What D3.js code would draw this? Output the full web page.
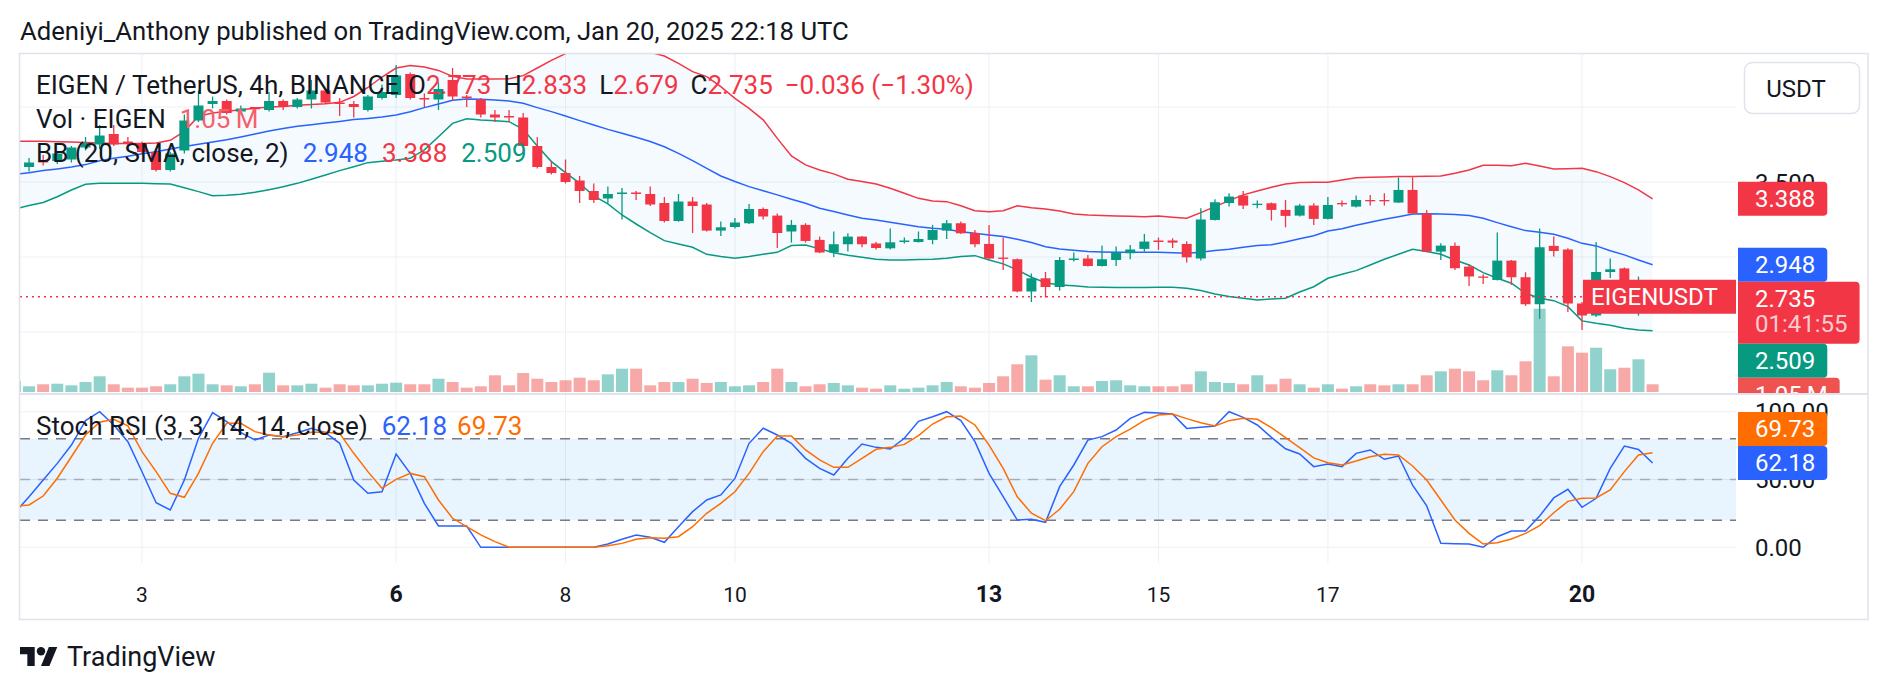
<!DOCTYPE html>
<html>
<head>
<meta charset="utf-8">
<script src="https://cdn.jsdelivr.net/npm/d3@7"></script>
<style>
  html, body { margin: 0; padding: 0; background: #fff; }
  svg { display: block; font-family: Roboto, "Noto Sans", sans-serif; }
</style>
</head>
<body>
<svg id="chart" width="1888" height="690"></svg>
<script>
// 4h candles, first one Jan 1 2025 12:00 UTC
const firstCandle = Date.UTC(2025, 0, 1, 12);
const candleMs = 4 * 3600 * 1000;

const opens = [
  3.57, 3.60, 3.64, 3.64, 3.65, 3.73, 3.75, 3.82, 3.77, 3.76,
  3.70, 3.58, 3.71, 3.91, 4.02, 4.04, 3.97, 4.00, 3.98, 4.04,
  4.00, 4.05, 4.11, 4.03, 4.02, 3.98, 4.06, 4.08, 4.22, 4.06,
  4.05, 4.18, 4.07, 4.05, 3.95, 3.94, 3.93, 3.74, 3.60, 3.56,
  3.51, 3.44, 3.39, 3.42, 3.43, 3.42, 3.36, 3.24, 3.37, 3.35,
  3.176, 3.20, 3.225, 3.32, 3.276, 3.17, 3.214, 3.114, 3.03, 3.085,
  3.136, 3.09, 3.058, 3.10, 3.10, 3.114, 3.176, 3.225, 3.16, 3.087,
  2.996, 2.985, 2.77, 2.858, 2.80, 2.98, 2.99, 2.94, 2.98, 3.025,
  3.054, 3.11, 3.11, 3.087, 2.99, 3.247, 3.36, 3.41, 3.35, 3.358,
  3.314, 3.276, 3.343, 3.254, 3.36, 3.336, 3.38, 3.38, 3.363, 3.447,
  3.29, 3.036, 3.074, 2.936, 2.87, 2.847, 2.976, 2.865, 2.685, 3.074,
  3.05, 2.69, 2.61, 2.90, 2.924, 2.76, 2.773
];
const highs = [
  3.62, 3.66, 3.68, 3.70, 3.74, 3.80, 3.88, 3.88, 3.80, 3.77,
  3.71, 3.70, 3.95, 4.11, 4.07, 4.05, 4.01, 4.00, 4.10, 4.05,
  4.06, 4.18, 4.12, 4.06, 4.04, 4.08, 4.15, 4.28, 4.23, 4.09,
  4.17, 4.26, 4.08, 4.06, 3.98, 3.98, 3.96, 3.80, 3.64, 3.65,
  3.54, 3.49, 3.47, 3.46, 3.44, 3.47, 3.40, 3.42, 3.40, 3.36,
  3.236, 3.26, 3.354, 3.33, 3.29, 3.247, 3.225, 3.136, 3.17, 3.158,
  3.14, 3.10, 3.19, 3.13, 3.17, 3.214, 3.247, 3.236, 3.18, 3.214,
  3.13, 2.99, 2.89, 2.90, 3.00, 3.03, 3.013, 3.076, 3.07, 3.08,
  3.154, 3.13, 3.125, 3.105, 3.325, 3.385, 3.425, 3.44, 3.376, 3.363,
  3.38, 3.354, 3.358, 3.40, 3.376, 3.41, 3.414, 3.425, 3.531, 3.531,
  3.314, 3.092, 3.096, 2.954, 2.885, 3.163, 2.98, 2.898, 3.19, 3.136,
  3.058, 2.70, 3.10, 2.99, 2.93, 2.869, 2.833
];
const lows = [
  3.55, 3.57, 3.61, 3.62, 3.63, 3.71, 3.72, 3.74, 3.72, 3.69,
  3.57, 3.57, 3.69, 3.90, 3.99, 3.95, 3.95, 3.95, 3.97, 3.98,
  3.99, 3.99, 4.02, 3.94, 3.93, 3.97, 4.05, 4.06, 4.05, 4.00,
  3.98, 4.04, 4.00, 3.93, 3.90, 3.90, 3.69, 3.59, 3.55, 3.49,
  3.36, 3.36, 3.36, 3.25, 3.38, 3.34, 3.23, 3.235, 3.16, 3.17,
  3.14, 3.19, 3.22, 3.25, 3.06, 3.096, 3.096, 3.025, 3.00, 3.036,
  3.065, 3.05, 3.05, 3.09, 3.096, 3.085, 3.12, 3.154, 3.065, 2.985,
  2.914, 2.765, 2.70, 2.73, 2.776, 2.97, 2.936, 2.936, 2.94, 2.985,
  3.036, 3.047, 3.06, 2.963, 2.976, 3.243, 3.336, 3.32, 3.325, 3.243,
  3.198, 3.27, 3.214, 3.25, 3.336, 3.33, 3.343, 3.343, 3.36, 3.287,
  3.032, 2.98, 2.914, 2.807, 2.82, 2.843, 2.814, 2.674, 2.587, 3.003,
  2.633, 2.513, 2.60, 2.86, 2.74, 2.609, 2.679
];
const closes = [
  3.60, 3.63, 3.63, 3.69, 3.73, 3.76, 3.81, 3.75, 3.76, 3.70,
  3.58, 3.69, 3.91, 4.01, 4.04, 3.96, 3.99, 3.985, 4.04, 4.00,
  4.05, 4.11, 4.03, 4.02, 4.00, 4.07, 4.10, 4.21, 4.06, 4.05,
  4.12, 4.07, 4.06, 3.95, 3.93, 3.93, 3.74, 3.60, 3.56, 3.50,
  3.44, 3.38, 3.42, 3.43, 3.42, 3.35, 3.24, 3.37, 3.34, 3.176,
  3.198, 3.23, 3.32, 3.27, 3.16, 3.214, 3.107, 3.03, 3.085, 3.136,
  3.085, 3.06, 3.098, 3.11, 3.12, 3.18, 3.225, 3.158, 3.085, 2.99,
  2.99, 2.77, 2.858, 2.80, 2.98, 2.99, 2.94, 2.985, 3.03, 3.05,
  3.103, 3.10, 3.096, 2.998, 3.25, 3.365, 3.403, 3.343, 3.355, 3.314,
  3.274, 3.343, 3.254, 3.347, 3.355, 3.38, 3.376, 3.375, 3.447, 3.29,
  3.036, 3.076, 2.925, 2.87, 2.865, 2.976, 2.865, 2.685, 3.065, 3.04,
  2.69, 2.61, 2.90, 2.918, 2.76, 2.771, 2.735
];
// volume in millions
const volumes = [
  1.50, 0.78, 1.05, 1.13, 0.91, 1.36, 2.14, 1.05, 0.59, 0.59,
  0.78, 1.05, 2.14, 2.50, 1.05, 0.91, 0.78, 1.05, 2.63, 0.91,
  0.91, 1.13, 0.59, 1.05, 0.91, 0.91, 1.13, 1.27, 1.05, 1.05,
  1.81, 1.36, 0.59, 0.78, 2.28, 0.91, 2.59, 1.81, 1.36, 1.60,
  1.95, 1.60, 2.41, 3.18, 3.18, 0.91, 1.36, 1.36, 1.81, 1.23,
  1.36, 0.78, 0.91, 1.36, 3.18, 1.36, 0.78, 1.05, 1.23, 0.91,
  0.59, 0.45, 0.91, 0.45, 0.59, 0.91, 1.36, 0.78, 0.59, 1.23,
  2.14, 3.78, 5.00, 1.68, 2.28, 0.78, 0.78, 1.50, 1.60, 0.91,
  0.78, 0.78, 0.78, 1.05, 2.82, 1.36, 1.23, 1.05, 2.28, 1.05,
  1.81, 1.05, 0.59, 1.05, 0.45, 0.78, 1.05, 0.91, 1.05, 1.05,
  2.28, 2.82, 3.18, 2.82, 1.60, 2.96, 2.28, 4.19, 11.36, 2.14,
  6.23, 5.36, 6.04, 3.10, 3.31, 4.46, 1.05
];

const bbUpper = [
  3.771, 3.771, 3.771, 3.769, 3.767, 3.764, 3.76, 3.756, 3.756, 3.756,
  3.76, 3.778, 3.838, 3.938, 3.96, 3.971, 3.982, 3.991, 4.0, 4.004,
  4.011, 4.016, 4.022, 4.031, 4.07, 4.13, 4.20, 4.26, 4.276, 4.267,
  4.244, 4.204, 4.187, 4.187, 4.187, 4.189, 4.209, 4.26, 4.311, 4.356,
  4.39, 4.40, 4.40, 4.39, 4.38, 4.365, 4.34, 4.291, 4.236, 4.203,
  4.136, 4.058, 3.991, 3.914, 3.791, 3.674, 3.614, 3.58, 3.554, 3.518,
  3.503, 3.487, 3.458, 3.425, 3.391, 3.374, 3.369, 3.342, 3.309, 3.302,
  3.309, 3.342, 3.329, 3.32, 3.307, 3.287, 3.28, 3.276, 3.274, 3.271,
  3.269, 3.274, 3.265, 3.258, 3.296, 3.336, 3.376, 3.414, 3.44, 3.465,
  3.487, 3.496, 3.498, 3.498, 3.514, 3.529, 3.531, 3.534, 3.536, 3.536,
  3.538, 3.54, 3.558, 3.58, 3.611, 3.611, 3.609, 3.625, 3.607, 3.587,
  3.589, 3.591, 3.569, 3.536, 3.496, 3.447, 3.388
];
const bbBasis = [
  3.55, 3.562, 3.576, 3.587, 3.60, 3.616, 3.642, 3.658, 3.671, 3.689,
  3.702, 3.72, 3.736, 3.751, 3.767, 3.782, 3.80, 3.82, 3.84, 3.856,
  3.871, 3.882, 3.894, 3.904, 3.916, 3.924, 3.933, 3.947, 3.969, 3.996,
  4.02, 4.045, 4.053, 4.051, 4.047, 4.04, 4.025, 3.996, 3.969, 3.94,
  3.909, 3.88, 3.851, 3.825, 3.798, 3.77, 3.735, 3.691, 3.642, 3.591,
  3.54, 3.503, 3.469, 3.442, 3.414, 3.385, 3.358, 3.325, 3.303, 3.28,
  3.258, 3.247, 3.231, 3.216, 3.202, 3.191, 3.185, 3.169, 3.158, 3.147,
  3.136, 3.118, 3.096, 3.069, 3.054, 3.045, 3.036, 3.034, 3.032, 3.032,
  3.032, 3.032, 3.029, 3.025, 3.032, 3.043, 3.052, 3.065, 3.076, 3.082,
  3.10, 3.122, 3.142, 3.173, 3.189, 3.211, 3.231, 3.251, 3.269, 3.287,
  3.289, 3.287, 3.283, 3.276, 3.258, 3.229, 3.202, 3.176, 3.165, 3.151,
  3.125, 3.091, 3.074, 3.042, 3.014, 2.98, 2.948
];
const bbLower = [
  3.32, 3.343, 3.363, 3.402, 3.447, 3.485, 3.491, 3.491, 3.491, 3.491,
  3.489, 3.487, 3.462, 3.436, 3.409, 3.411, 3.418, 3.431, 3.449, 3.469,
  3.491, 3.518, 3.547, 3.576, 3.602, 3.629, 3.638, 3.647, 3.658, 3.714,
  3.802, 3.891, 3.922, 3.914, 3.909, 3.902, 3.851, 3.74, 3.636, 3.562,
  3.491, 3.407, 3.354, 3.28, 3.22, 3.162, 3.109, 3.087, 3.065, 3.018,
  3.003, 2.991, 3.003, 3.018, 3.031, 3.076, 3.08, 3.054, 3.029, 3.011,
  2.998, 2.985, 2.98, 2.98, 2.983, 2.985, 2.991, 3.003, 3.009, 2.98,
  2.954, 2.914, 2.865, 2.829, 2.814, 2.809, 2.80, 2.798, 2.796, 2.796,
  2.796, 2.798, 2.798, 2.791, 2.776, 2.754, 2.736, 2.725, 2.714, 2.72,
  2.725, 2.767, 2.802, 2.858, 2.885, 2.909, 2.947, 2.985, 3.018, 3.051,
  3.036, 3.018, 2.98, 2.947, 2.896, 2.858, 2.825, 2.758, 2.725, 2.709,
  2.669, 2.574, 2.558, 2.545, 2.525, 2.514, 2.509
];

const stochK = [
  25.5, 37.3, 49.6, 61.9, 75.4, 93.4, 100, 90.2, 77.9, 55.7,
  32.9, 27.5, 49.6, 80.4, 99.3, 92.7, 84.5, 79.1, 82.8, 81.6,
  84.5, 87.8, 84.5, 76.7, 49.6, 39.8, 41.0, 68.8, 54.5, 32.4,
  15.7, 15.7, 15.7, 0, 0, 0, 0, 0, 0, 0,
  0, 0, 2.5, 5.9, 9.1, 7.4, 3.7, 15.2, 26.3, 34.9,
  38.6, 50.8, 76.7, 87.8, 82.8, 76.7, 65.6, 58.2, 53.3, 65.6,
  76.2, 73.7, 72.5, 80.4, 92.9, 96.3, 100, 93.4, 77.9, 54.5,
  37.3, 20.1, 20.6, 18.4, 44.7, 60.7, 79.1, 81.6, 86.5, 95.1,
  99.5, 99.0, 98.3, 87.7, 88.5, 89.5, 100, 95.8, 90.2, 81.1,
  72.7, 68.8, 59.5, 61.4, 59.5, 69.3, 71.8, 64.9, 67.3, 45.9,
  30.5, 2.9, 2.7, 2.4, 0, 7.8, 12.0, 12.0, 23.1, 36.4,
  42.8, 29.5, 36.1, 58.2, 74.7, 72.2, 62.18
];
const stochD = [
  30.2, 31.2, 37.8, 50.9, 66.8, 82.8, 92.2, 94.4, 89.5, 70.5,
  55.8, 39.8, 36.9, 54.5, 76.7, 91.4, 91.4, 85.3, 82.8, 81.6,
  82.8, 84.8, 84.8, 84.0, 69.3, 55.8, 43.5, 50.1, 54.5, 52.1,
  34.9, 21.4, 15.2, 9.1, 4.2, 0, 0, 0, 0, 0,
  0, 0, 1.2, 2.9, 5.9, 7.1, 6.6, 7.8, 15.2, 25.1,
  32.4, 41.0, 54.5, 70.5, 82.1, 82.1, 71.8, 64.4, 59.0, 59.0,
  65.6, 72.3, 73.7, 75.9, 82.3, 90.9, 96.3, 96.8, 90.2, 75.4,
  58.2, 37.3, 25.1, 19.6, 28.0, 41.0, 61.9, 74.2, 81.6, 87.2,
  93.6, 97.6, 98.3, 94.9, 91.9, 89.5, 93.4, 95.1, 94.4, 88.2,
  80.8, 73.5, 65.9, 62.4, 60.7, 63.6, 66.8, 68.6, 68.1, 60.0,
  49.6, 34.9, 20.1, 10.3, 2.4, 3.4, 6.1, 10.3, 16.0, 25.5,
  33.9, 36.1, 36.4, 42.3, 55.8, 68.1, 69.73
];

const priceTicks = [2.5, 3.0, 3.5, 4.0];
const stochTicks = [0, 50, 100];
const stochBands = [80, 50, 20];
const dayTicks = [3, 6, 8, 10, 13, 15, 17, 20];
const boldDays = [6, 13, 20];

const lastPrice = 2.735;
const countdown = "01:41:55";

const data = closes.map((c, i) => ({
  t: new Date(firstCandle + i * candleMs),
  o: opens[i], h: highs[i], l: lows[i], c: c, v: volumes[i],
  up: bbUpper[i], mid: bbBasis[i], lo: bbLower[i],
  k: stochK[i], d: stochD[i]
}));

const svg = d3.select("#chart");
const ink = "#131722", upCol = "#089981", downCol = "#f23645";
const gridCol = "#eef0f4", frameCol = "#e0e3eb";

const plotL = 20, plotR = 1736, axisR = 1868;
const mainTop = 54, mainBot = 393, stochTop = 395, stochBot = 563;

// scales
const x = d3.scaleUtc()
  .domain([new Date(Date.UTC(2025, 0, 3)), new Date(Date.UTC(2025, 0, 20))])
  .range([142, 1582]);
const y = d3.scaleLinear().domain([2.5, 4.0]).range([332, 107]);
const yVol = d3.scaleLinear().domain([0, 1.05]).range([392, 384.3]);
const yS = d3.scaleLinear().domain([0, 100]).range([547.3, 411.7]);

const defs = svg.append("defs");
defs.append("clipPath").attr("id", "clipMain")
  .append("rect").attr("x", plotL).attr("y", mainTop).attr("width", plotR - plotL).attr("height", mainBot - mainTop);
defs.append("clipPath").attr("id", "clipStoch")
  .append("rect").attr("x", plotL).attr("y", stochTop).attr("width", plotR - plotL).attr("height", stochBot - stochTop);
defs.append("clipPath").attr("id", "clipMainAxis")
  .append("rect").attr("x", plotR).attr("y", mainTop).attr("width", axisR - plotR).attr("height", mainBot - mainTop);
defs.append("clipPath").attr("id", "clipStochAxis")
  .append("rect").attr("x", plotR).attr("y", stochTop).attr("width", axisR - plotR).attr("height", stochBot - stochTop + 4);

// header
svg.append("text")
  .attr("x", 20).attr("y", 40)
  .attr("fill", ink).style("font-size", "25.7px")
  .text("Adeniyi_Anthony published on TradingView.com, Jan 20, 2025 22:18 UTC");

// grid
const grid = svg.append("g");
const dayDates = dayTicks.map(d => new Date(Date.UTC(2025, 0, d)));
grid.selectAll(".vg").data(dayDates).join("line")
  .attr("x1", d => x(d)).attr("x2", d => x(d))
  .attr("y1", mainTop).attr("y2", stochBot)
  .attr("stroke", gridCol).attr("stroke-width", 1);
grid.selectAll(".hg").data(priceTicks).join("line")
  .attr("x1", plotL).attr("x2", plotR)
  .attr("y1", d => y(d)).attr("y2", d => y(d))
  .attr("stroke", gridCol);
grid.selectAll(".sg").data(stochTicks).join("line")
  .attr("x1", plotL).attr("x2", plotR)
  .attr("y1", d => yS(d)).attr("y2", d => yS(d))
  .attr("stroke", gridCol);

// ---- main pane ----
const main = svg.append("g").attr("clip-path", "url(#clipMain)");

main.append("path")
  .datum(data)
  .attr("fill", "rgba(33,150,243,0.05)")
  .attr("d", d3.area().x(d => x(d.t)).y0(d => y(d.lo)).y1(d => y(d.up)));

// volume
main.selectAll(".vol").data(data).join("rect")
  .attr("x", d => x(d.t) - 6).attr("width", 12)
  .attr("y", d => yVol(d.v)).attr("height", d => yVol(0) - yVol(d.v))
  .attr("fill", d => d.c >= d.o ? "rgba(38,166,154,0.5)" : "rgba(239,83,80,0.5)");

const bbLines = [["up", "#f23645"], ["mid", "#2962ff"], ["lo", "#089981"]];
bbLines.forEach(([key, col]) => {
  main.append("path").datum(data)
    .attr("fill", "none").attr("stroke", col).attr("stroke-width", 1.5)
    .attr("d", d3.line().x(d => x(d.t)).y(d => y(d[key])));
});

// candles
const candles = main.append("g").selectAll("g").data(data).join("g")
  .attr("fill", d => d.c >= d.o ? upCol : downCol)
  .attr("stroke", d => d.c >= d.o ? upCol : downCol);
candles.append("line")
  .attr("x1", d => x(d.t)).attr("x2", d => x(d.t))
  .attr("y1", d => y(d.h)).attr("y2", d => y(d.l))
  .attr("stroke-width", 1.3);
candles.append("rect")
  .attr("stroke", "none")
  .attr("x", d => x(d.t) - 5).attr("width", 10)
  .attr("y", d => y(Math.max(d.o, d.c)))
  .attr("height", d => Math.max(1.3, Math.abs(y(d.o) - y(d.c))));

// last price line
main.append("line")
  .attr("x1", plotL).attr("x2", plotR)
  .attr("y1", y(lastPrice)).attr("y2", y(lastPrice))
  .attr("stroke", downCol).attr("stroke-width", 1.5).attr("stroke-dasharray", "2,4");

// symbol tag on the price line
const symTag = svg.append("g");
symTag.append("rect")
  .attr("x", 1583).attr("y", y(lastPrice) - 17).attr("width", plotR - 1583).attr("height", 34)
  .attr("fill", downCol);
symTag.append("text")
  .attr("x", 1591).attr("y", y(lastPrice) + 8.5)
  .attr("fill", "#fff").style("font-size", "24px")
  .text("EIGENUSDT");

// ---- stoch pane ----
const st = svg.append("g").attr("clip-path", "url(#clipStoch)");
st.append("rect")
  .attr("x", plotL).attr("width", plotR - plotL)
  .attr("y", yS(80)).attr("height", yS(20) - yS(80))
  .attr("fill", "rgba(33,150,243,0.1)");
st.selectAll(".band").data(stochBands).join("line")
  .attr("x1", plotL).attr("x2", plotR)
  .attr("y1", d => yS(d)).attr("y2", d => yS(d))
  .attr("stroke", d => d === 50 ? "rgba(120,123,134,0.55)" : "#787b86")
  .attr("stroke-width", 1.5)
  .attr("stroke-dasharray", "10,8");
st.append("path").datum(data)
  .attr("fill", "none").attr("stroke", "#2962ff").attr("stroke-width", 1.5)
  .attr("d", d3.line().x(d => x(d.t)).y(d => yS(d.k)));
st.append("path").datum(data)
  .attr("fill", "none").attr("stroke", "#ff6d00").attr("stroke-width", 1.5)
  .attr("d", d3.line().x(d => x(d.t)).y(d => yS(d.d)));

// legends
function legendRow(yy, parts) {
  const t = svg.append("text").attr("x", 36).attr("y", yy)
    .style("font-size", "26px").attr("xml:space", "preserve");
  parts.forEach(p => {
    t.append("tspan").attr("fill", p[1]).attr("dx", p[2] || 0).text(p[0]);
  });
}
legendRow(94, [["EIGEN / TetherUS, 4h, BINANCE", ink], ["O", ink, 9], ["2.773", downCol],
  ["H", ink, 12], ["2.833", downCol], ["L", ink, 12], ["2.679", downCol],
  ["C", ink, 12], ["2.735", downCol], ["\u22120.036 (\u22121.30%)", downCol, 12]]);
legendRow(128, [["Vol \u00b7 EIGEN", ink], ["1.05\u2009M", "#f6606b", 14]]);
legendRow(162, [["BB (20, SMA, close, 2)", ink], ["2.948", "#2962ff", 14],
  ["3.388", downCol, 14], ["2.509", upCol, 14]]);
legendRow(435, [["Stoch RSI (3, 3, 14, 14, close)", ink], ["62.18", "#2962ff", 14], ["69.73", "#ff6d00", 10]]);

// ---- price axis ----
const axMain = svg.append("g").attr("clip-path", "url(#clipMainAxis)");

function tag(g, top, h, lines, fill) {
  const tmp = g.append("text").style("font-size", "24px").attr("visibility", "hidden");
  let tw = 0;
  lines.forEach(l => { tmp.text(l); tw = Math.max(tw, tmp.node().getComputedTextLength()); });
  tmp.remove();
  const w = 17 + tw + 12, x0 = 1738, r = 4;
  g.append("path")
    .attr("d", `M${x0},${top}H${x0 + w - r}Q${x0 + w},${top} ${x0 + w},${top + r}V${top + h - r}Q${x0 + w},${top + h} ${x0 + w - r},${top + h}H${x0}Z`)
    .attr("fill", fill);
  lines.forEach((l, i) => {
    g.append("text").attr("x", 1755).attr("y", top + 25.5 + i * 25)
      .attr("fill", i === 0 ? "#fff" : "rgba(255,255,255,0.75)")
      .style("font-size", "24px").text(l);
  });
  return [top, top + h];
}

// main pane tags, pushed down on overlap
const mainTags = [
  { c: y(bbUpper[bbUpper.length - 1]), h: 34, lines: ["3.388"], fill: downCol },
  { c: y(bbBasis[bbBasis.length - 1]), h: 34, lines: ["2.948"], fill: "#2962ff" },
  { c: y(lastPrice), h: 62, lines: ["2.735", countdown], fill: downCol },
  { c: y(bbLower[bbLower.length - 1]), h: 34, lines: ["2.509"], fill: upCol },
  { c: yVol(volumes[volumes.length - 1]), h: 34, lines: ["1.05\u2009M"], fill: "#ef5350" }
];
let bottom = -1e9;
const mainSpans = [[62, 114]]; // currency button
mainTags.forEach(tg => {
  const top = Math.max(tg.c - 17, bottom);
  mainSpans.push([top, top + tg.h]);
  bottom = top + tg.h;
});
// tick labels only where a tag does not sit fully over them
const covered = (v, spans) => spans.some(s => v > s[0] + 3 && v < s[1] - 3);
axMain.selectAll(".pt").data(priceTicks.filter(d => !covered(y(d), mainSpans))).join("text")
  .attr("x", 1755).attr("y", d => y(d) + 8.5)
  .attr("fill", ink).style("font-size", "24px")
  .text(d => d.toFixed(3));
mainTags.forEach((tg, i) => {
  tag(axMain, mainSpans[i + 1][0], tg.h, tg.lines, tg.fill);
});

// currency button
svg.append("rect")
  .attr("x", 1744.5).attr("y", 62.5).attr("width", 115).attr("height", 51).attr("rx", 8)
  .attr("fill", "#fff").attr("stroke", frameCol).attr("stroke-width", 1.5);
svg.append("text")
  .attr("x", 1796).attr("y", 97).attr("text-anchor", "middle")
  .attr("fill", ink).style("font-size", "24px").text("USDT");

// stoch axis
const axSt = svg.append("g").attr("clip-path", "url(#clipStochAxis)");
axSt.selectAll(".st").data(stochTicks).join("text")
  .attr("x", 1755).attr("y", d => yS(d) + 8.5)
  .attr("fill", ink).style("font-size", "24px")
  .text(d => d.toFixed(2));
const kTop = yS(stochK[stochK.length - 1]) - 17;
tag(axSt, kTop, 34, [stochK[stochK.length - 1].toFixed(2)], "#2962ff");
const dTop = Math.min(yS(stochD[stochD.length - 1]) - 17, kTop - 34);
tag(axSt, dTop, 34, [stochD[stochD.length - 1].toFixed(2)], "#ff6d00");

// time axis
svg.selectAll(".tl").data(dayDates).join("text")
  .attr("x", d => x(d)).attr("y", 602)
  .attr("text-anchor", "middle").attr("fill", ink)
  .style("font-size", d => boldDays.includes(d.getUTCDate()) ? "23px" : "21px")
  .style("font-weight", d => boldDays.includes(d.getUTCDate()) ? "700" : "400")
  .text(d => d.getUTCDate());

// frame + pane separator
svg.append("rect")
  .attr("x", 19.5).attr("y", 53.5).attr("width", axisR - 19.5).attr("height", 566)
  .attr("fill", "none").attr("stroke", frameCol).attr("stroke-width", 1.5);
svg.append("line")
  .attr("x1", 19.5).attr("x2", axisR).attr("y1", 394).attr("y2", 394)
  .attr("stroke", frameCol).attr("stroke-width", 2);

// TradingView mark
const logo = svg.append("g").attr("transform", "translate(20,642.8) scale(1.05)").attr("fill", ink);
logo.append("path").attr("d", "M14 22H7V11H0V4h14v18zM28 22h-8l7.5-18h8L28 22z");
logo.append("circle").attr("cx", 20).attr("cy", 8).attr("r", 4);
svg.append("text")
  .attr("x", 67).attr("y", 666)
  .attr("fill", ink).style("font-size", "27px")
  .text("TradingView");
</script>
</body>
</html>
